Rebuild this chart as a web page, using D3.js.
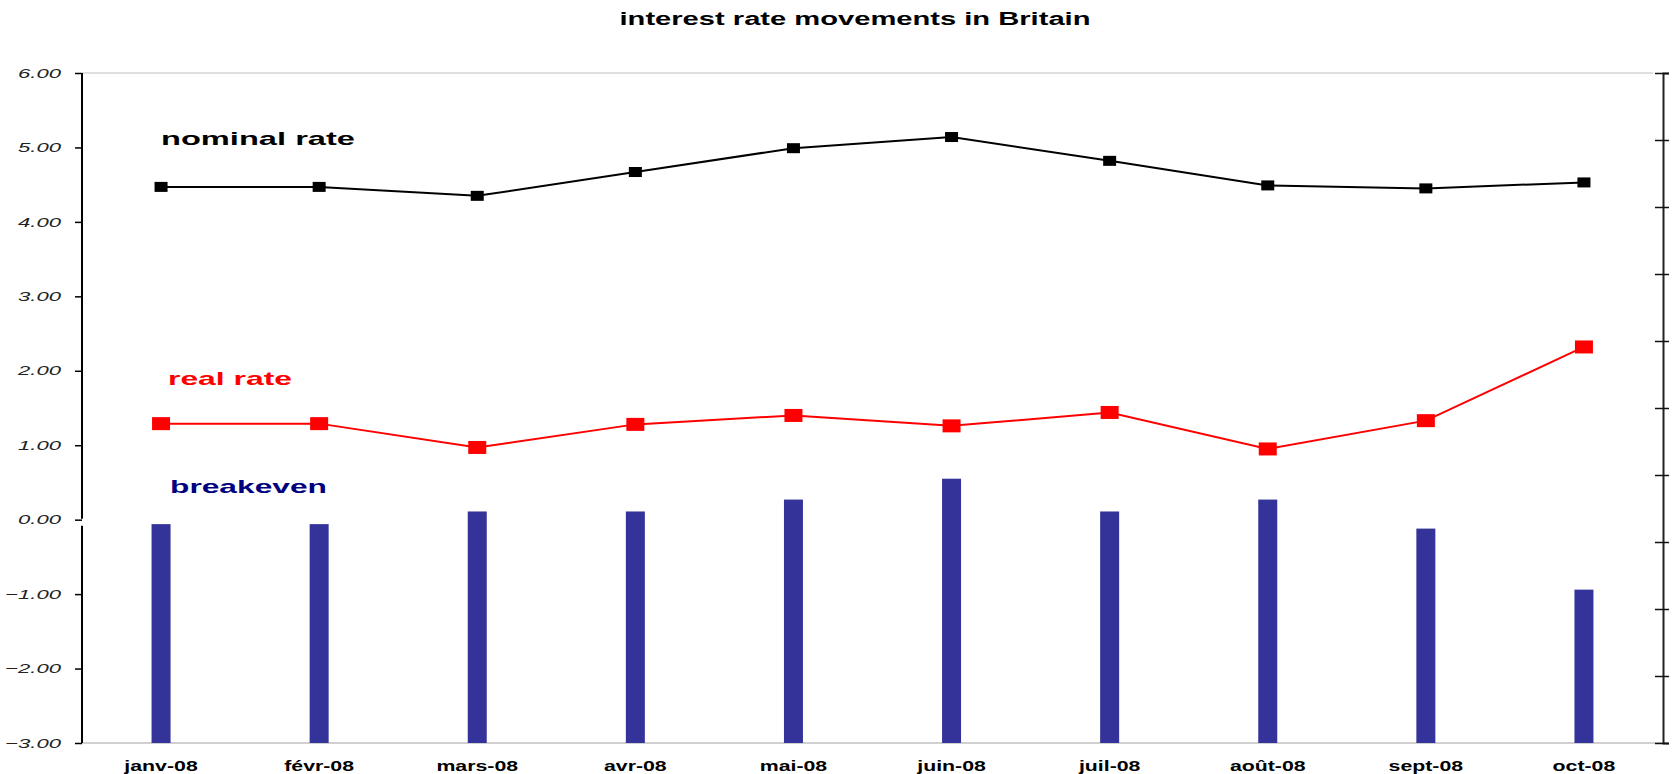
<!DOCTYPE html>
<html>
<head>
<meta charset="utf-8">
<script src="https://cdn.jsdelivr.net/npm/d3@7"></script>
<style>
body { margin: 0; background: #fff; }
svg { display: block; font-family: "Liberation Sans", Arial, sans-serif; }
</style>
</head>
<body>
<div id="chart"></div>
<script>

let months = ["janv-08", "févr-08", "mars-08", "avr-08", "mai-08", "juin-08", "juil-08", "août-08", "sept-08", "oct-08"];
let nominal = [4.47, 4.47, 4.35, 4.67, 4.99, 5.14, 4.82, 4.49, 4.45, 4.53];
let real = [1.29, 1.29, 0.97, 1.28, 1.40, 1.26, 1.44, 0.95, 1.33, 2.32];
let breakeven = [-0.06, -0.06, 0.11, 0.11, 0.27, 0.55, 0.11, 0.27, -0.12, -0.94];
let yTicks = [6, 5, 4, 3, 2, 1, 0, -1, -2, -3];
let rightTicks = [0, 1, 2, 3, 4, 5, 6, 7, 8, 9, 10];

let width = 1672, height = 774;
let margin = {top: 73, right: 9, bottom: 31, left: 82};

let svg = d3.select("#chart").append("svg")
    .attr("width", width)
    .attr("height", height);

let x = d3.scaleBand()
    .domain(months)
    .range([margin.left, width - margin.right]);

let y = d3.scaleLinear()
    .domain([-3, 6])
    .range([height - margin.bottom, margin.top]);

// secondary axis on the right has no labels, just ticks
let y2 = d3.scaleLinear()
    .domain([0, 10])
    .range([height - margin.bottom, margin.top]);

let cx = function(m){ return x(m) + x.bandwidth() / 2; };

// pair each value with its month
let nominalPts = months.map(function(m, i){ return {month: m, value: nominal[i]}; });
let realPts = months.map(function(m, i){ return {month: m, value: real[i]}; });
let barPts = months.map(function(m, i){ return {month: m, value: breakeven[i]}; });

// title
svg.append("text")
    .attr("x", 855)
    .attr("y", 25)
    .attr("text-anchor", "middle")
    .attr("textLength", 471)
    .attr("lengthAdjust", "spacingAndGlyphs")
    .style("font-size", "18px")
    .style("font-weight", "bold")
    .text("interest rate movements in Britain");

// light frame lines top and bottom
svg.append("line")
    .attr("x1", margin.left).attr("x2", width - margin.right - 10)
    .attr("y1", y(6)).attr("y2", y(6))
    .attr("stroke", "#d4d4d4").attr("stroke-width", 1.5);
svg.append("line")
    .attr("x1", margin.left).attr("x2", width - margin.right)
    .attr("y1", y(-3)).attr("y2", y(-3))
    .attr("stroke", "#c0c0c0").attr("stroke-width", 1.5);

// bars rise from the bottom of the axis
svg.append("g").attr("class", "bars").selectAll("rect")
    .data(barPts)
    .enter().append("rect")
    .attr("x", function(d){ return cx(d.month) - 9.5; })
    .attr("y", function(d){ return y(d.value); })
    .attr("width", 19)
    .attr("height", function(d){ return y(-3) - y(d.value); })
    .attr("fill", "#333399");

// left axis
let leftAxis = svg.append("g")
    .attr("transform", "translate(" + margin.left + ",0)")
    .call(d3.axisLeft(y).tickValues(yTicks).tickSize(7).tickPadding(0)
        .tickFormat(d3.format(".2f")));
leftAxis.select(".domain").remove();
leftAxis.selectAll(".tick line").attr("stroke", "#000").attr("stroke-width", 1.5);
leftAxis.selectAll(".tick text")
    .attr("x", -21 / 1.7)
    .attr("transform", "scale(1.7,1)")
    .style("font-size", "13px")
    .style("font-style", "italic")
    .style("font-family", "'Liberation Sans', Arial, sans-serif")
    .attr("fill", "#222");
leftAxis.append("line")
    .attr("y1", y(6)).attr("y2", y(0) - 1)
    .attr("stroke", "#000").attr("stroke-width", 2);
leftAxis.append("line")
    .attr("y1", y(0) + 6).attr("y2", y(-3))
    .attr("stroke", "#000").attr("stroke-width", 2);

// right axis
let rightAxis = svg.append("g")
    .attr("transform", "translate(" + (width - margin.right) + ",0)")
    .call(d3.axisRight(y2).tickValues(rightTicks).tickSize(6).tickFormat(""));
rightAxis.select(".domain").attr("stroke", "#222").attr("stroke-width", 2);
rightAxis.selectAll(".tick line")
    .attr("x1", -8)
    .attr("stroke", "#111").attr("stroke-width", 1.5);

// month labels
svg.append("g").attr("class", "months").selectAll("text")
    .data(months)
    .enter().append("text")
    .attr("transform", function(d){
        return "translate(" + cx(d) + "," + 771 + ") scale(1.42,1)";
    })
    .attr("text-anchor", "middle")
    .style("font-size", "15px")
    .style("font-weight", "bold")
    .text(function(d){ return d; });

// lines with square markers
let line = d3.line()
    .x(function(d){ return cx(d.month); })
    .y(function(d){ return y(d.value); });

svg.append("path")
    .datum(nominalPts)
    .attr("d", line)
    .attr("fill", "none")
    .attr("stroke", "#000")
    .attr("stroke-width", 2);
svg.append("g").attr("class", "nominal").selectAll("rect")
    .data(nominalPts)
    .enter().append("rect")
    .attr("x", function(d){ return cx(d.month) - 6.5; })
    .attr("y", function(d){ return y(d.value) - 5; })
    .attr("width", 13)
    .attr("height", 10)
    .attr("fill", "#000");

svg.append("path")
    .datum(realPts)
    .attr("d", line)
    .attr("fill", "none")
    .attr("stroke", "#ff0000")
    .attr("stroke-width", 2);
svg.append("g").attr("class", "real").selectAll("rect")
    .data(realPts)
    .enter().append("rect")
    .attr("x", function(d){ return cx(d.month) - 9; })
    .attr("y", function(d){ return y(d.value) - 6.5; })
    .attr("width", 18)
    .attr("height", 13)
    .attr("fill", "#ff0000");

// series labels
let labels = [
    {text: "nominal rate", x: 161, y: 145, len: 194, color: "#000"},
    {text: "real rate", x: 168, y: 385, len: 124, color: "#ff0000"},
    {text: "breakeven", x: 170, y: 493, len: 157, color: "#000080"}
];
svg.append("g").attr("class", "labels").selectAll("text")
    .data(labels)
    .enter().append("text")
    .attr("x", function(d){ return d.x; })
    .attr("y", function(d){ return d.y; })
    .attr("textLength", function(d){ return d.len; })
    .attr("lengthAdjust", "spacingAndGlyphs")
    .attr("fill", function(d){ return d.color; })
    .style("font-size", "19px")
    .style("font-weight", "bold")
    .text(function(d){ return d.text; });

</script>
</body>
</html>
